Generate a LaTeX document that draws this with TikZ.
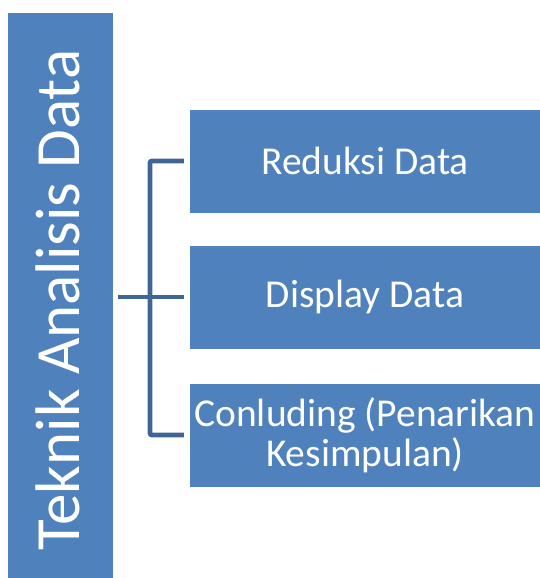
\documentclass[tikz,border=0pt]{standalone}
\usepackage{fontspec}
\setmainfont{Carlito}
\definecolor{boxblue}{HTML}{4F81BD}
\definecolor{linecol}{HTML}{3F6595}
\begin{document}
\begin{tikzpicture}[x=1pt,y=-1pt,
  bluebox/.style={fill=boxblue,draw=none,inner sep=0pt,text=white},
  rbox/.style={bluebox,minimum width=350,minimum height=103,align=center,
    font=\fontsize{39.5}{40}\selectfont},
  conn/.style={draw=linecol,line width=4.8pt}]
\useasboundingbox (0,0) rectangle (540,578);
\node[bluebox,minimum width=105,minimum height=565] (L) at (60.5,295.5) {};
\node[text=white,rotate=90,anchor=base,inner sep=0pt,font=\fontsize{63}{64}\selectfont] (LT) at (79,300) {Teknik Analisis Data};
\node[rbox] (R1) at (365,161) {Reduksi Data};
\node[rbox] (R2) at (365,297) {Display Data};
\node[rbox] (R3) at (365,435) {Conluding (Penarikan\\Kesimpulan)};
\coordinate (j) at (150,297);
\draw[conn] ([xshift=5pt]L.east |- R2.west) -- ([xshift=-6pt]R2.west);
\draw[conn,rounded corners=2pt] ([xshift=-6pt]R1.west) -| (j) |- ([xshift=-6pt]R3.west);
\end{tikzpicture}
\end{document}
